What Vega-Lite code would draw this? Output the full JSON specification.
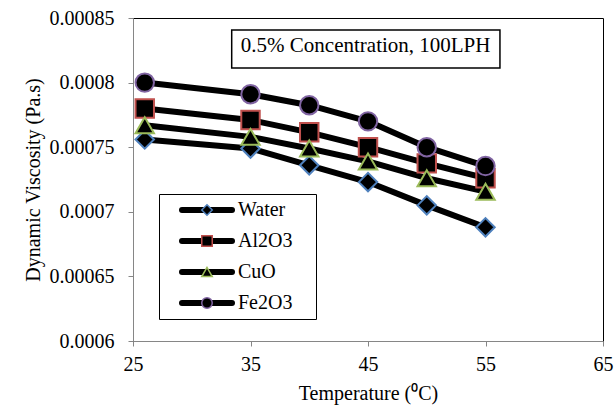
{
  "$schema": "https://vega.github.io/schema/vega-lite/v6.json",
  "width": 470,
  "height": 323,
  "autosize": {"type": "none"},
  "padding": {"left": 133, "top": 18, "right": 12, "bottom": 70},
  "background": "white",
  "config": {
    "view": {"stroke": "black", "strokeWidth": 1},
    "font": "Liberation Serif",
    "axis": {
      "grid": false,
      "labelFont": "Liberation Serif",
      "labelFontSize": 20,
      "labelColor": "black",
      "titleFont": "Liberation Serif",
      "titleFontSize": 20,
      "titleFontWeight": "normal",
      "titleColor": "black",
      "domainColor": "#868686",
      "tickColor": "#868686",
      "tickSize": 5,
      "labelFlush": false,
      "labelOverlap": false
    }
  },
  "data": {
    "values": [
      {"series": "Water", "temp": 26, "visc": 0.000756},
      {"series": "Water", "temp": 35, "visc": 0.000749},
      {"series": "Water", "temp": 40, "visc": 0.000736},
      {"series": "Water", "temp": 45, "visc": 0.000723},
      {"series": "Water", "temp": 50, "visc": 0.000705},
      {"series": "Water", "temp": 55, "visc": 0.000688},
      {"series": "Al2O3", "temp": 26, "visc": 0.00078},
      {"series": "Al2O3", "temp": 35, "visc": 0.000771},
      {"series": "Al2O3", "temp": 40, "visc": 0.0007615},
      {"series": "Al2O3", "temp": 45, "visc": 0.00075},
      {"series": "Al2O3", "temp": 50, "visc": 0.0007375},
      {"series": "Al2O3", "temp": 55, "visc": 0.000726},
      {"series": "CuO", "temp": 26, "visc": 0.000767},
      {"series": "CuO", "temp": 35, "visc": 0.000758},
      {"series": "CuO", "temp": 40, "visc": 0.000749},
      {"series": "CuO", "temp": 45, "visc": 0.000739},
      {"series": "CuO", "temp": 50, "visc": 0.000726},
      {"series": "CuO", "temp": 55, "visc": 0.0007156},
      {"series": "Fe2O3", "temp": 26, "visc": 0.0008},
      {"series": "Fe2O3", "temp": 35, "visc": 0.000791},
      {"series": "Fe2O3", "temp": 40, "visc": 0.0007825},
      {"series": "Fe2O3", "temp": 45, "visc": 0.00077},
      {"series": "Fe2O3", "temp": 50, "visc": 0.00075},
      {"series": "Fe2O3", "temp": 55, "visc": 0.0007354}
    ]
  },
  "layer": [
    {
      "mark": {"type": "line", "strokeWidth": 6, "strokeCap": "round", "strokeJoin": "round"},
      "encoding": {
        "x": {
          "field": "temp", "type": "quantitative",
          "scale": {"domain": [25, 65], "nice": false, "zero": false},
          "axis": {"values": [25, 35, 45, 55, 65], "title": "Temperature (⁰C)", "labelPadding": 8, "titlePadding": 9}
        },
        "y": {
          "field": "visc", "type": "quantitative",
          "scale": {"domain": [0.0006, 0.00085], "nice": false, "zero": false},
          "axis": {"values": [0.0006, 0.00065, 0.0007, 0.00075, 0.0008, 0.00085], "format": ".5~f", "title": "Dynamic Viscosity (Pa.s)", "labelPadding": 14, "titlePadding": 6}
        },
        "color": {
          "field": "series", "type": "nominal",
          "sort": ["Water", "Al2O3", "CuO", "Fe2O3"],
          "scale": {"range": ["black", "black", "black", "black"]},
          "legend": {
            "orient": "none", "legendX": 26, "legendY": 176,
            "title": null,
            "symbolType": "stroke", "symbolSize": 2500, "clipHeight": 20,
            "symbolStrokeWidth": 6, "symbolStrokeColor": "black", "symbolOffset": 14,
            "labelOffset": 3, "labelFont": "Liberation Serif", "labelFontSize": 20, "labelColor": "black",
            "rowPadding": 11, "padding": 6,
            "encode": {"symbols": {"update": {"strokeCap": {"value": "round"}}}}
          }
        }
      }
    },
    {
      "mark": {"type": "point", "filled": true, "fill": "black", "opacity": 1, "strokeWidth": 2, "size": 340},
      "encoding": {
        "x": {"field": "temp", "type": "quantitative"},
        "y": {"field": "visc", "type": "quantitative"},
        "shape": {
          "field": "series", "type": "nominal",
          "scale": {"domain": ["Water", "Al2O3", "CuO", "Fe2O3"], "range": ["diamond", "square", "triangle-up", "circle"]},
          "legend": {
            "orient": "none", "legendX": 26, "legendY": 176, "zindex": 1,
            "title": null,
            "symbolSize": 110, "symbolStrokeWidth": 1.5, "symbolFillColor": "black", "symbolOpacity": 1, "symbolOffset": 32,
            "labelOffset": 93, "labelExpr": "''", "labelFont": "Liberation Serif", "labelFontSize": 20,
            "rowPadding": 11, "padding": 6, "strokeColor": "black",
            "encode": {"symbols": {"update": {"stroke": {"scale": "stroke", "field": "value"}, "fill": {"value": "black"}, "strokeWidth": {"value": 1.5}, "size": {"value": 110}}}}
          }
        },
        "stroke": {
          "field": "series", "type": "nominal",
          "scale": {"domain": ["Water", "Al2O3", "CuO", "Fe2O3"], "range": ["#4F81BD", "#C0504D", "#9BBB59", "#8064A2"]},
          "legend": {
            "orient": "none", "legendX": 26, "legendY": 176, "zindex": 1,
            "title": null,
            "symbolSize": 110, "symbolStrokeWidth": 1.5, "symbolFillColor": "black", "symbolOpacity": 1, "symbolOffset": 32,
            "labelOffset": 93, "labelExpr": "''", "labelFont": "Liberation Serif", "labelFontSize": 20,
            "rowPadding": 11, "padding": 6, "strokeColor": "black",
            "encode": {"symbols": {"update": {"stroke": {"scale": "stroke", "field": "value"}, "fill": {"value": "black"}, "strokeWidth": {"value": 1.5}, "size": {"value": 110}}}}
          }
        }
      }
    },
    {
      "data": {"values": [{"note": "0.5% Concentration, 100LPH"}]},
      "mark": {"type": "rect", "fill": "white", "stroke": "black", "strokeWidth": 1.5},
      "encoding": {
        "x": {"datum": 33.4, "type": "quantitative"},
        "x2": {"datum": 56.23},
        "y": {"datum": 0.0008407, "type": "quantitative"},
        "y2": {"datum": 0.0008113}
      }
    },
    {
      "data": {"values": [{"note": "0.5% Concentration, 100LPH"}]},
      "mark": {"type": "text", "font": "Liberation Serif", "fontSize": 21, "color": "black", "align": "center", "baseline": "middle"},
      "encoding": {
        "x": {"datum": 44.8, "type": "quantitative"},
        "y": {"datum": 0.0008286, "type": "quantitative"},
        "text": {"field": "note"}
      }
    }
  ]
}
